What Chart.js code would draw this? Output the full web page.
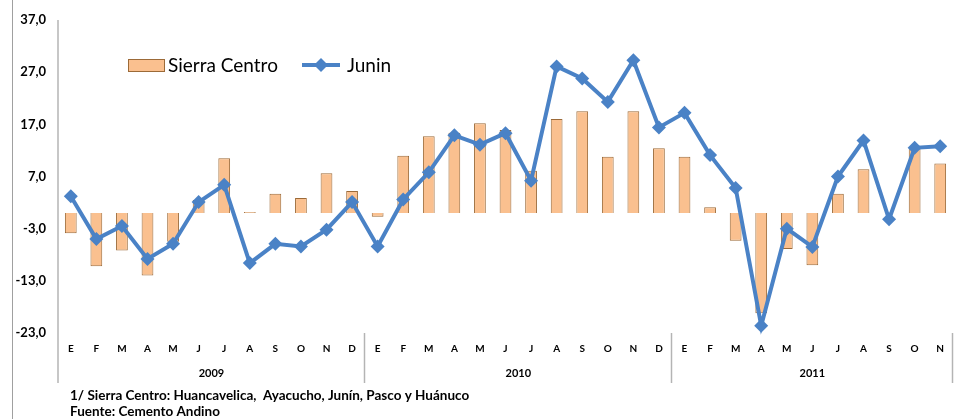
<!DOCTYPE html>
<html>
<head>
<meta charset="utf-8">
<script src="https://cdn.jsdelivr.net/npm/chart.js@4/dist/chart.umd.min.js"></script>
<style>
  html, body { margin: 0; padding: 0; background: #fff; overflow: hidden; }
  canvas { display: block; }
</style>
</head>
<body>
<canvas id="chart" width="955" height="419"></canvas>
<script>
// months: 2009 (E..D), 2010 (E..D), 2011 (E..N)
const months = [
  "E","F","M","A","M","J","J","A","S","O","N","D",
  "E","F","M","A","M","J","J","A","S","O","N","D",
  "E","F","M","A","M","J","J","A","S","O","N"
];
const years = ["2009", "2010", "2011"];
const yearSizes = [12, 12, 11];

// Sierra Centro (bars), var. %
const sierraCentro = [
  -3.9, -10.2, -7.2, -12.0, -5.5, 2.5, 10.5, 0.2, 3.7, 2.9, 7.6, 4.2,
  -0.7, 11.0, 14.7, 15.4, 17.2, 15.9, 8.1, 18.0, 19.5, 10.8, 19.5, 12.4,
  10.8, 1.1, -5.3, -19.2, -6.9, -10.0, 3.7, 8.4, 0.0, 12.6, 9.5
];

// Junin (line), var. %
const junin = [
  3.2, -5.0, -2.5, -8.8, -5.9, 2.1, 5.4, -9.6, -5.9, -6.4, -3.2, 2.1,
  -6.4, 2.6, 7.8, 14.9, 13.1, 15.3, 6.2, 28.1, 25.8, 21.3, 29.3, 16.4,
  19.2, 11.1, 4.8, -21.6, -3.0, -6.5, 7.0, 13.9, -1.2, 12.5, 12.8
];

const yTicks = [-23, -13, -3, 7, 17, 27, 37];

const footnotes = [
  "1/ Sierra Centro: Huancavelica,  Ayacucho, Junín, Pasco y Huánuco",
  "Fuente: Cemento Andino"
];

const FONT = "Lato, 'Open Sans', sans-serif";
const barFill = "#FAC08F";
const barBorder = "#9C6A38";
const lineColor = "#4A82C6";
const axisGray = "#B4B4B4";

// extra drawing: frame line, axis extension, year groups, legend, notes
const decor = {
  id: "decor",
  beforeDraw(chart) {
    const ctx = chart.ctx;
    ctx.save();
    ctx.fillStyle = "#fff";
    ctx.fillRect(0, 0, chart.width, chart.height);
    ctx.restore();
  },
  afterDraw(chart) {
    const { ctx, chartArea: a, scales: { x } } = chart;
    ctx.save();

    // outer frame line on the left
    ctx.strokeStyle = "#A0A0A0";
    ctx.lineWidth = 1;
    ctx.beginPath();
    ctx.moveTo(12.5, 0);
    ctx.lineTo(12.5, chart.height);
    ctx.stroke();

    // y axis line extended through the label area
    const lowY = a.bottom + 50;
    ctx.strokeStyle = axisGray;
    ctx.lineWidth = 1.5;
    ctx.beginPath();
    ctx.moveTo(a.left, a.top);
    ctx.lineTo(a.left, lowY);
    ctx.stroke();

    // year groups
    let start = 0;
    const half = (x.getPixelForValue(1) - x.getPixelForValue(0)) / 2;
    ctx.font = "bold 11px " + FONT;
    ctx.fillStyle = "#000";
    ctx.textAlign = "center";
    ctx.textBaseline = "middle";
    years.forEach((yr, i) => {
      const end = start + yearSizes[i] - 1;
      const x0 = x.getPixelForValue(start) - half;
      const x1 = x.getPixelForValue(end) + half;
      ctx.fillText(yr, (x0 + x1) / 2, a.bottom + 40);
      ctx.beginPath();
      ctx.moveTo(Math.round(x1) - 0.5, a.bottom);
      ctx.lineTo(Math.round(x1) - 0.5, lowY);
      ctx.stroke();
      start = end + 1;
    });

    // legend
    ctx.textAlign = "left";
    ctx.font = "19px " + FONT;
    ctx.fillStyle = barFill;
    ctx.fillRect(128, 59, 37, 13);
    ctx.strokeStyle = barBorder;
    ctx.lineWidth = 1;
    ctx.strokeRect(128.5, 59.5, 36, 12);
    ctx.fillStyle = "#000";
    ctx.fillText("Sierra Centro", 168, 66);

    ctx.strokeStyle = lineColor;
    ctx.lineWidth = 4;
    ctx.beginPath();
    ctx.moveTo(302, 65);
    ctx.lineTo(340, 65);
    ctx.stroke();
    ctx.fillStyle = lineColor;
    ctx.beginPath();
    ctx.moveTo(321, 58); ctx.lineTo(328, 65); ctx.lineTo(321, 72); ctx.lineTo(314, 65);
    ctx.closePath();
    ctx.fill();
    ctx.fillStyle = "#000";
    ctx.fillText("Junin", 347, 66);

    // notes
    ctx.font = "bold 13.5px " + FONT;
    ctx.fillText(footnotes[0], 70, 396);
    ctx.fillText(footnotes[1], 70, 412);

    ctx.restore();
  }
};

new Chart(document.getElementById("chart"), {
  data: {
    labels: months,
    datasets: [
      {
        type: "line",
        label: "Junin",
        data: junin,
        borderColor: lineColor,
        backgroundColor: lineColor,
        borderWidth: 4,
        pointStyle: "rectRot",
        pointRadius: 7,
        pointBorderWidth: 0,
        tension: 0,
        clip: false,
        order: 0
      },
      {
        type: "bar",
        label: "Sierra Centro",
        data: sierraCentro,
        backgroundColor: barFill,
        borderColor: barBorder,
        borderWidth: 1,
        categoryPercentage: 1,
        barPercentage: 0.46,
        order: 1
      }
    ]
  },
  options: {
    responsive: false,
    animation: false,
    layout: { autoPadding: false, padding: { top: 20, right: 2, left: 0, bottom: 0 } },
    plugins: {
      legend: { display: false },
      tooltip: { enabled: false },
      title: { display: false }
    },
    scales: {
      x: {
        grid: { display: false, drawTicks: false },
        border: { display: false },
        ticks: {
          autoSkip: false,
          maxRotation: 0,
          padding: 10,
          color: "#000",
          font: { family: FONT, size: 10, weight: "bold" }
        },
        afterFit(scale) {
          scale.height = 86;
          scale.paddingLeft = 0;
          scale.paddingRight = 0;
        }
      },
      y: {
        min: -23,
        max: 37,
        afterBuildTicks(scale) { scale.ticks = yTicks.map(v => ({ value: v })); },
        grid: {
          drawTicks: false,
          lineWidth: 1.5,
          color: ctx => (ctx.tick && ctx.tick.value === 0 ? axisGray : "transparent")
        },
        border: { display: false },
        ticks: {
          padding: 12,
          color: "#000",
          font: { family: FONT, size: 13, weight: "bold" },
          callback: v => v.toFixed(1).replace(".", ",")
        },
        afterFit(scale) { scale.width = 58; }
      }
    }
  },
  plugins: [decor]
});
</script>
</body>
</html>
